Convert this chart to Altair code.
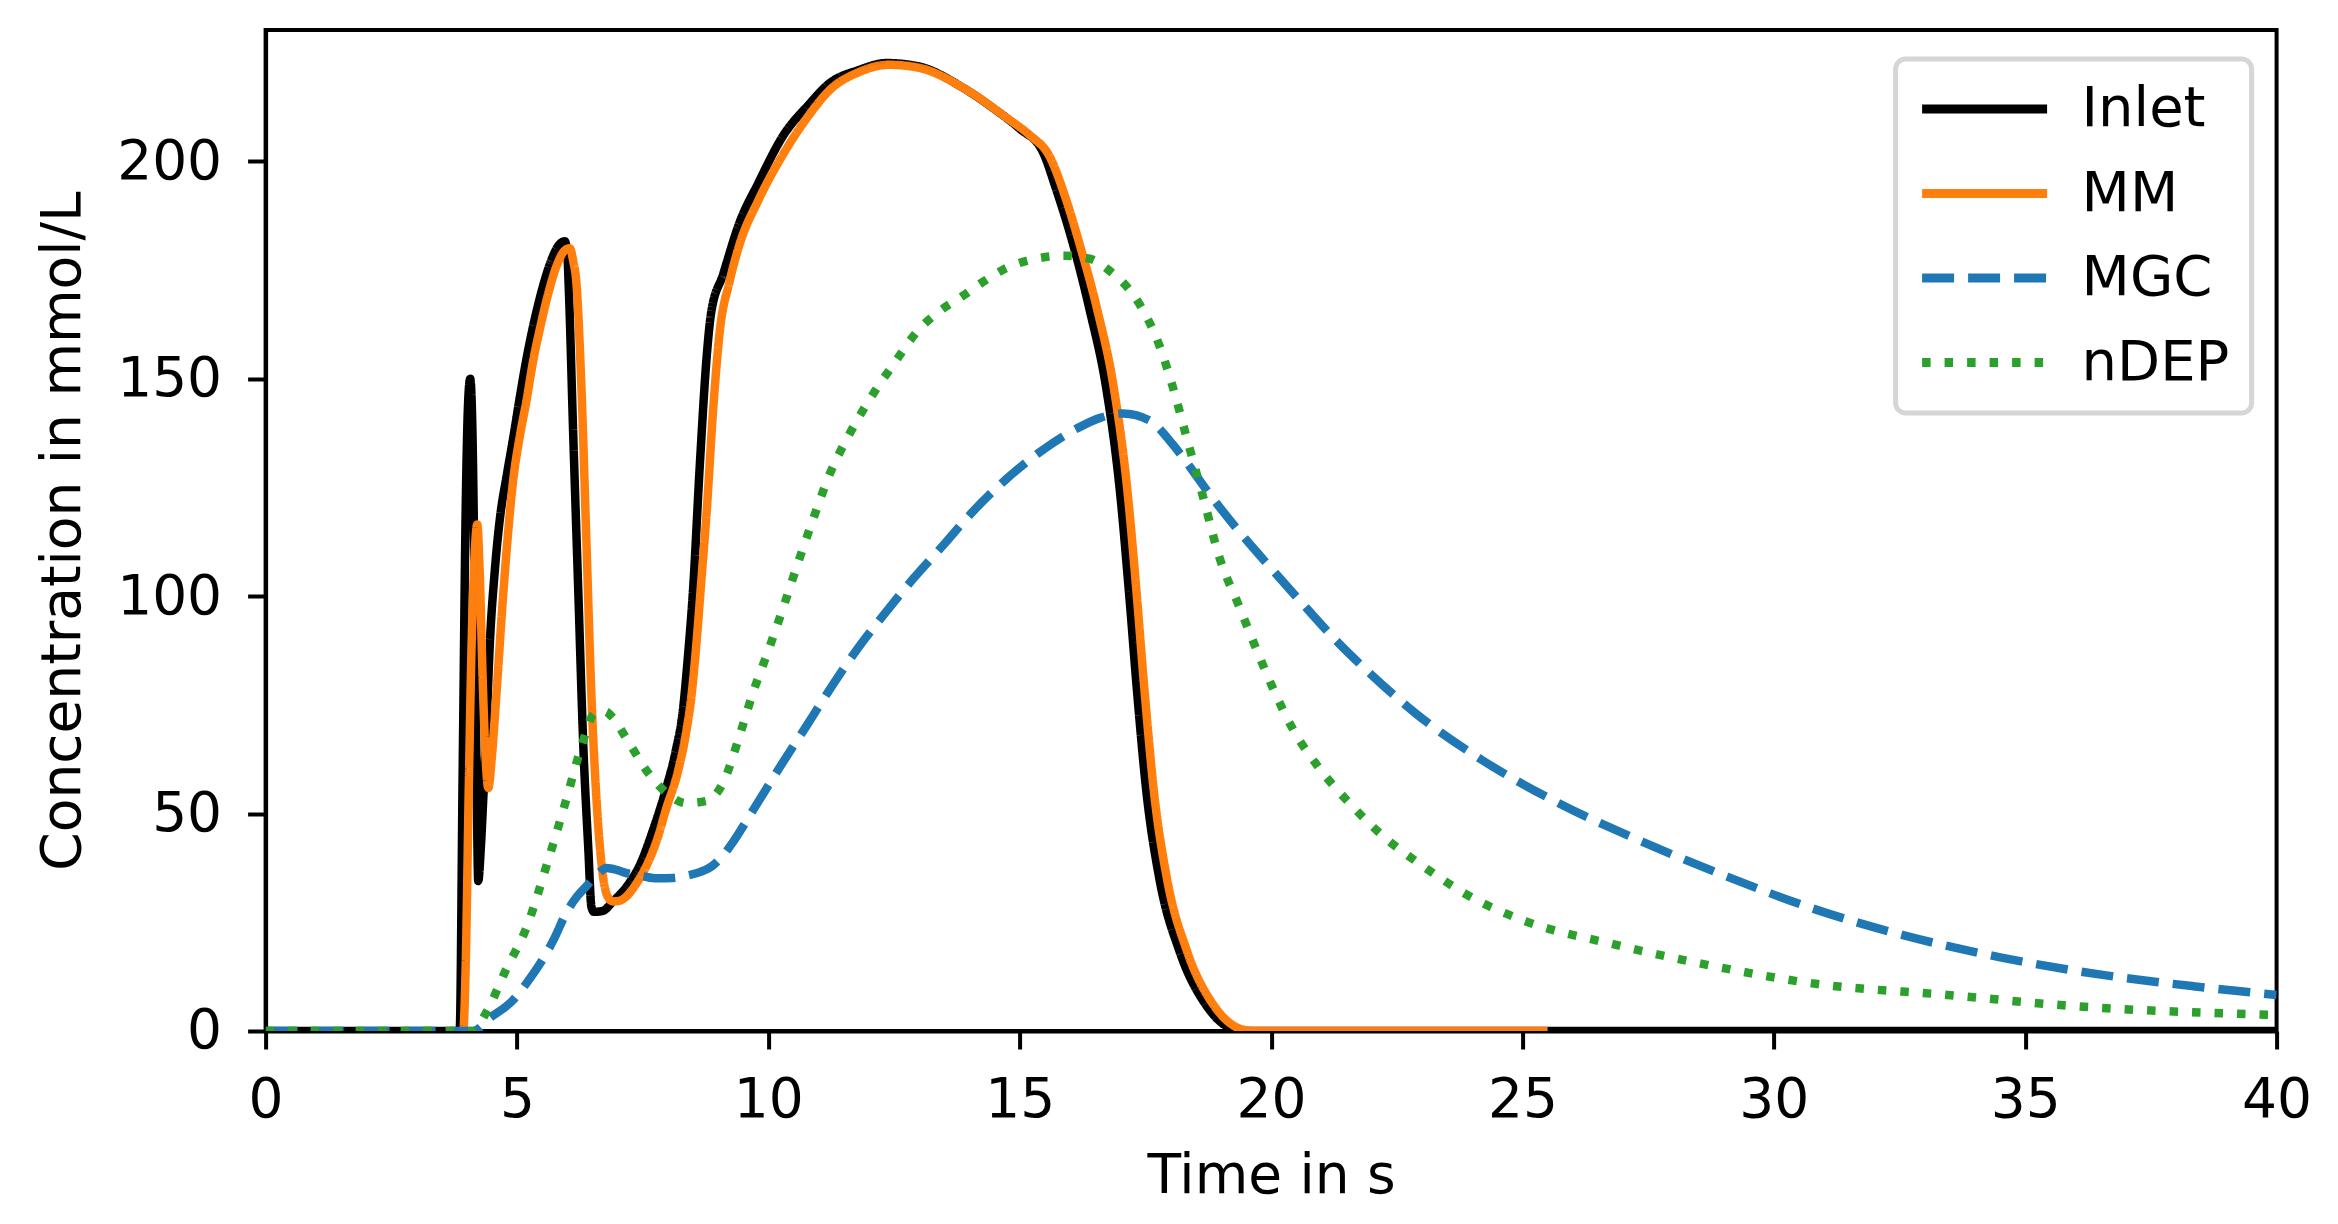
import altair as alt
import pandas as pd

SERIES = ["Inlet", "MM", "MGC", "nDEP"]
COLORS = ["#000000", "#ff7f0e", "#1f77b4", "#2ca02c"]
DASHES = [[1, 0], [1, 0], [32, 14], [8.5, 14]]

X_TICKS = [0, 5, 10, 15, 20, 25, 30, 35, 40]
Y_TICKS = [0, 50, 100, 150, 200]

inlet = [(0, 0), (3.86, 0), (3.92, 60), (3.98, 120), (4.03, 145), (4.07, 150), (4.11, 140),
         (4.16, 100), (4.2, 55), (4.23, 34.5), (4.28, 42), (4.33, 53.6), (4.4, 72), (4.46, 89),
         (4.56, 106), (4.66, 117.8), (4.8, 128), (4.93, 136.7), (5.06, 146), (5.19, 154.6),
         (5.32, 162), (5.46, 168.8), (5.6, 174.5), (5.72, 178.3), (5.85, 181), (5.95, 181.6),
         (6.0, 179), (6.03, 171), (6.12, 136.7), (6.22, 101), (6.32, 65.4), (6.42, 41.7),
         (6.48, 28.6), (6.53, 27.4), (6.7, 27.6), (6.91, 29.8), (7.2, 33.5), (7.44, 38.1),
         (7.7, 46), (7.97, 55.9), (8.15, 64), (8.3, 73.7), (8.4, 86), (8.5, 101), (8.64, 130.8),
         (8.77, 154.6), (8.86, 165), (9.1, 174), (9.43, 186), (9.8, 195), (10.3, 206),
         (10.8, 213), (11.2, 217.8), (11.8, 221), (12.35, 222.6), (13.0, 221.8), (13.86, 217),
         (14.5, 212), (15.0, 207.5), (15.45, 202.4), (15.73, 193.4), (16.06, 181),
         (16.39, 165.9), (16.72, 147.9), (16.99, 124.5), (17.18, 100), (17.32, 80),
         (17.52, 55), (17.78, 34.9), (18.18, 18.3), (18.71, 5.9), (19.24, 0.5), (19.6, 0),
         (40, 0)]

mm = [(3.9, 0), (3.93, 0), (3.98, 15), (4.04, 55), (4.1, 90), (4.16, 110), (4.21, 116.5),
      (4.26, 105), (4.32, 80), (4.38, 62), (4.43, 55.9), (4.5, 63), (4.59, 77.3), (4.73, 101),
      (4.93, 127.2), (5.06, 137), (5.19, 145), (5.32, 154), (5.46, 161.7), (5.62, 169.5),
      (5.79, 176), (5.95, 179.5), (6.05, 180), (6.12, 177), (6.18, 172.4), (6.28, 148.6),
      (6.38, 113), (6.48, 77.3), (6.58, 53.6), (6.71, 35.7), (6.8, 31), (6.91, 29.8),
      (7.05, 30), (7.18, 31), (7.38, 34), (7.58, 38.1), (7.8, 44.5), (7.97, 51.2), (8.2, 59.6),
      (8.37, 69), (8.47, 77), (8.57, 89.2), (8.67, 104), (8.77, 118.9), (8.9, 142.6),
      (9.03, 160.5), (9.23, 172.4), (9.43, 181), (9.8, 191), (10.34, 202.5), (10.8, 210.5),
      (11.23, 216.5), (11.8, 220.5), (12.4, 222.2), (13.0, 221.5), (13.86, 217), (14.74, 210),
      (15.2, 206), (15.6, 201), (15.9, 192), (16.19, 181), (16.54, 166), (16.87, 148),
      (17.14, 124.5), (17.33, 100), (17.47, 80), (17.67, 55), (17.93, 35), (18.33, 18.3),
      (18.86, 5.9), (19.45, 0.3), (19.7, 0), (25.5, 0)]

mgc = [(0, 0), (4.13, 0), (4.46, 3), (4.93, 7.2), (5.19, 11), (5.46, 15.5), (5.73, 21),
       (5.99, 27.4), (6.2, 31), (6.38, 33.3), (6.6, 36), (6.78, 37.5), (7.0, 37), (7.18, 36.3),
       (7.5, 35.6), (7.78, 35.1), (8.1, 35.2), (8.37, 35.7), (8.65, 36.6), (8.9, 38.1),
       (9.15, 41.1), (9.3, 43.5), (9.68, 50.5), (10.3, 62), (10.75, 70), (11.19, 78),
       (11.81, 88.5), (12.35, 96.5), (12.88, 104), (13.5, 112), (14.03, 119), (14.74, 127),
       (15.36, 132.8), (16.16, 138.7), (16.6, 141), (17.05, 142), (17.58, 140.4),
       (18.05, 134.8), (18.4, 129.5), (18.71, 124.5), (19.37, 114.8), (20.03, 106),
       (20.7, 97.3), (21.36, 89), (21.85, 83.5), (22.88, 73), (24.17, 62.5), (25.7, 52.5),
       (27.39, 43.5), (29.07, 35.5), (30.87, 27.8), (32.55, 22.1), (34.48, 17.0),
       (36.54, 12.9), (38.34, 10.3), (40, 8.3)]

ndep = [(0, 0), (4.13, 0), (4.39, 4.3), (4.79, 14.3), (5.19, 23.8), (5.59, 38.1), (5.99, 53.6),
        (6.25, 64.2), (6.55, 73.1), (6.75, 73.5), (6.91, 72), (7.18, 67.2), (7.64, 58.9),
        (8.0, 54.5), (8.37, 52.4), (8.77, 52.9), (9.1, 57.1), (9.43, 68), (9.7, 78), (10.0, 87.5),
        (10.3, 97.5), (10.6, 108), (10.9, 118), (11.2, 127.5), (11.6, 137), (12.1, 146.8),
        (12.5, 153.5), (12.97, 161), (13.4, 165.5), (13.86, 169), (14.3, 172.5), (14.74, 175.5),
        (15.2, 177.3), (15.9, 178.3), (16.39, 177.6), (16.79, 174.8), (17.38, 167.2),
        (17.78, 157.6), (18.05, 147.9), (18.31, 136.9), (18.64, 123.1), (18.97, 109),
        (19.37, 97.5), (19.7, 88), (20.03, 79), (20.43, 69.5), (20.96, 60.4), (21.6, 51.9),
        (22.24, 44.7), (23.01, 38), (24.04, 30.4), (25.07, 25.2), (26.75, 20.1), (28.55, 15.5),
        (30.87, 10.8), (33.45, 8.3), (36, 5.7), (40, 3.7)]

frames = []
for name, pts in zip(SERIES, [inlet, mm, mgc, ndep]):
    frames.append(pd.DataFrame({"t": [p[0] for p in pts], "v": [p[1] for p in pts], "series": name}))
df = pd.concat(frames, ignore_index=True)

legend = alt.Legend(
    title=None, orient="none", legendX=1630, legendY=29,
    symbolType="stroke", symbolSize=15625, symbolStrokeWidth=9,
    clipHeight=56, rowPadding=28.5, labelOffset=30,
    labelFontSize=56, labelFont="DejaVu Sans", labelColor="black", labelLimit=0,
)

base = alt.Chart(df).mark_line(strokeWidth=8.5, interpolate="monotone", clip=True).encode(
    x=alt.X("t:Q", scale=alt.Scale(domain=[0, 40], nice=False, zero=False),
            axis=alt.Axis(values=X_TICKS, title="Time in s", format="d")),
    y=alt.Y("v:Q", scale=alt.Scale(domain=[0, 230.2], nice=False),
            axis=alt.Axis(values=Y_TICKS, title="Concentration in mmol/L", format="d")),
    color=alt.Color("series:N", scale=alt.Scale(domain=SERIES, range=COLORS), legend=legend),
    strokeDash=alt.StrokeDash("series:N", scale=alt.Scale(domain=SERIES, range=DASHES), legend=legend),
)

layers = [base.transform_filter(alt.datum.series == s) for s in SERIES]

chart = alt.layer(*layers).properties(
    width=2011, height=1001,
    padding={"left": 257.6, "top": 22, "right": 50, "bottom": 180},
    autosize=alt.AutoSizeParams(type="none"),
    background="white",
).configure_view(
    stroke="black", strokeWidth=4
).configure_axis(
    domainColor="black", domainWidth=4, tickColor="black", tickWidth=4, tickSize=18,
    labelFont="DejaVu Sans", labelFontSize=55, labelColor="black",
    titleFont="DejaVu Sans", titleFontSize=55, titleFontWeight="normal", titleColor="black",
    grid=False, labelFlush=False, labelOverlap=False, zindex=1,
).configure_axisX(
    labelPadding=25, titlePadding=22
).configure_axisY(
    labelPadding=26, titlePadding=25
).configure_legend(
    padding=22, strokeColor="#d6d6d6", strokeWidth=5, cornerRadius=10, fillColor="white",
)

chart.save("out.html", embed_options={"renderer": "svg", "actions": False})
